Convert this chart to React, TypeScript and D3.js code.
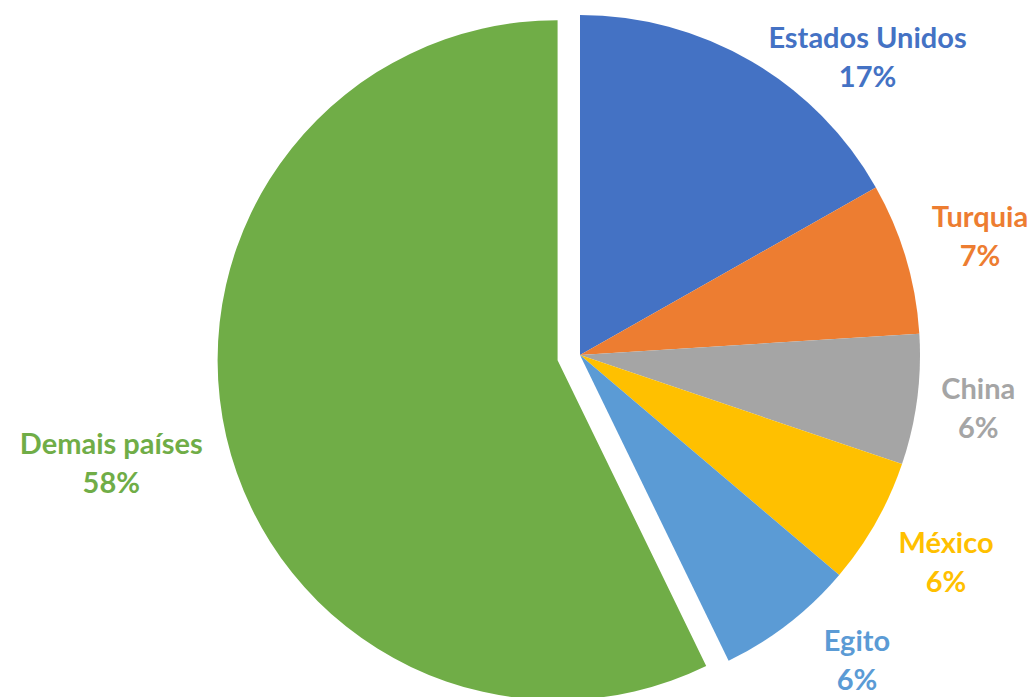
import { useRef, useEffect } from "react"
import * as d3 from "d3"

const countries = ["Estados Unidos", "Turquia", "China", "México", "Egito", "Demais países"]
const shares = [16.8, 7.2, 6.2, 6.0, 6.6, 57.2]
const shareLabels = ["17%", "7%", "6%", "6%", "6%", "58%"]
const colors = ["#4472C4", "#ED7D31", "#A5A5A5", "#FFC000", "#5B9BD5", "#70AD47"]
const exploded = [false, false, false, false, false, true]

export default function App() {
  const svgRef = useRef<SVGSVGElement>(null)

  function drawChart() {
    const width = 1035
    const height = 697
    const cx = 580
    const cy = 355
    const radius = 340
    const explode = 23
    const gap = 20
    const lineGap = 39
    const slide = 82
    const fontFamily = "Lato, 'Open Sans', 'Liberation Sans', sans-serif"

    const svg = d3.select(svgRef.current).attr("width", width).attr("height", height)
    svg.selectAll("*").remove()

    const data = countries.map((c, i) => ({ name: c, value: shares[i], label: shareLabels[i], color: colors[i], exploded: exploded[i] }))
    const pie = d3.pie<any>().value((d) => d.value).sort(null)
    const arcs = pie(data)
    const arc = d3.arc<any>().innerRadius(0).outerRadius(radius)

    const offset = (d: any) => {
      if (!d.data.exploded) return [0, 0]
      const mid = (d.startAngle + d.endAngle) / 2
      return [Math.sin(mid) * explode, -Math.cos(mid) * explode]
    }

    const g = svg.append("g").attr("transform", `translate(${cx}, ${cy})`)

    g.selectAll("path")
      .data(arcs)
      .enter()
      .append("path")
      .attr("d", arc)
      .attr("fill", (d) => d.data.color)
      .attr("transform", (d) => `translate(${offset(d)[0]}, ${offset(d)[1]})`)

    // Labels: outside end, pushed out by the box half-extent along the mid direction
    const labels = g
      .selectAll("g.label")
      .data(arcs)
      .enter()
      .append("g")
      .attr("class", "label")

    labels.each(function (d) {
      const lg = d3.select(this)
      const t1 = lg
        .append("text")
        .text(d.data.name)
        .attr("text-anchor", "middle")
        .attr("y", -lineGap / 2)
        .attr("dy", "0.35em")
      const t2 = lg
        .append("text")
        .text(d.data.label)
        .attr("text-anchor", "middle")
        .attr("y", lineGap / 2)
        .attr("dy", "0.35em")
      lg.selectAll("text")
        .style("font-family", fontFamily)
        .style("font-weight", "bold")
        .style("font-size", "29px")
        .attr("fill", d.data.color)

      const w = Math.max((t1.node() as SVGTextElement).getComputedTextLength(), (t2.node() as SVGTextElement).getComputedTextLength())
      const h = lineGap * 2
      const mid = (d.startAngle + d.endAngle) / 2
      const sx = Math.sin(mid)
      const sy = -Math.cos(mid)
      const dist = radius + gap + Math.abs(sx) * (w / 2) + Math.abs(sy) * (h / 2)
      const [ox, oy] = offset(d)
      let x = ox + sx * dist
      let y = oy + sy * dist
      const minY = -cy + h / 2 + 18
      const maxY = height - cy - h / 2 + 2
      if (y < minY || y > maxY) {
        // no room: slide along the edge, right of the arc
        y = Math.max(minY, Math.min(maxY, y))
        x = Math.sqrt((radius + 22) ** 2 - y * y) + slide
      }
      lg.attr("transform", `translate(${x}, ${y})`)
    })
  }

  useEffect(() => {
    drawChart()
  }, [svgRef])

  return (
    <div>
      <svg ref={svgRef} style={{ position: "absolute", left: 0, top: 0 }}></svg>
    </div>
  )
}
